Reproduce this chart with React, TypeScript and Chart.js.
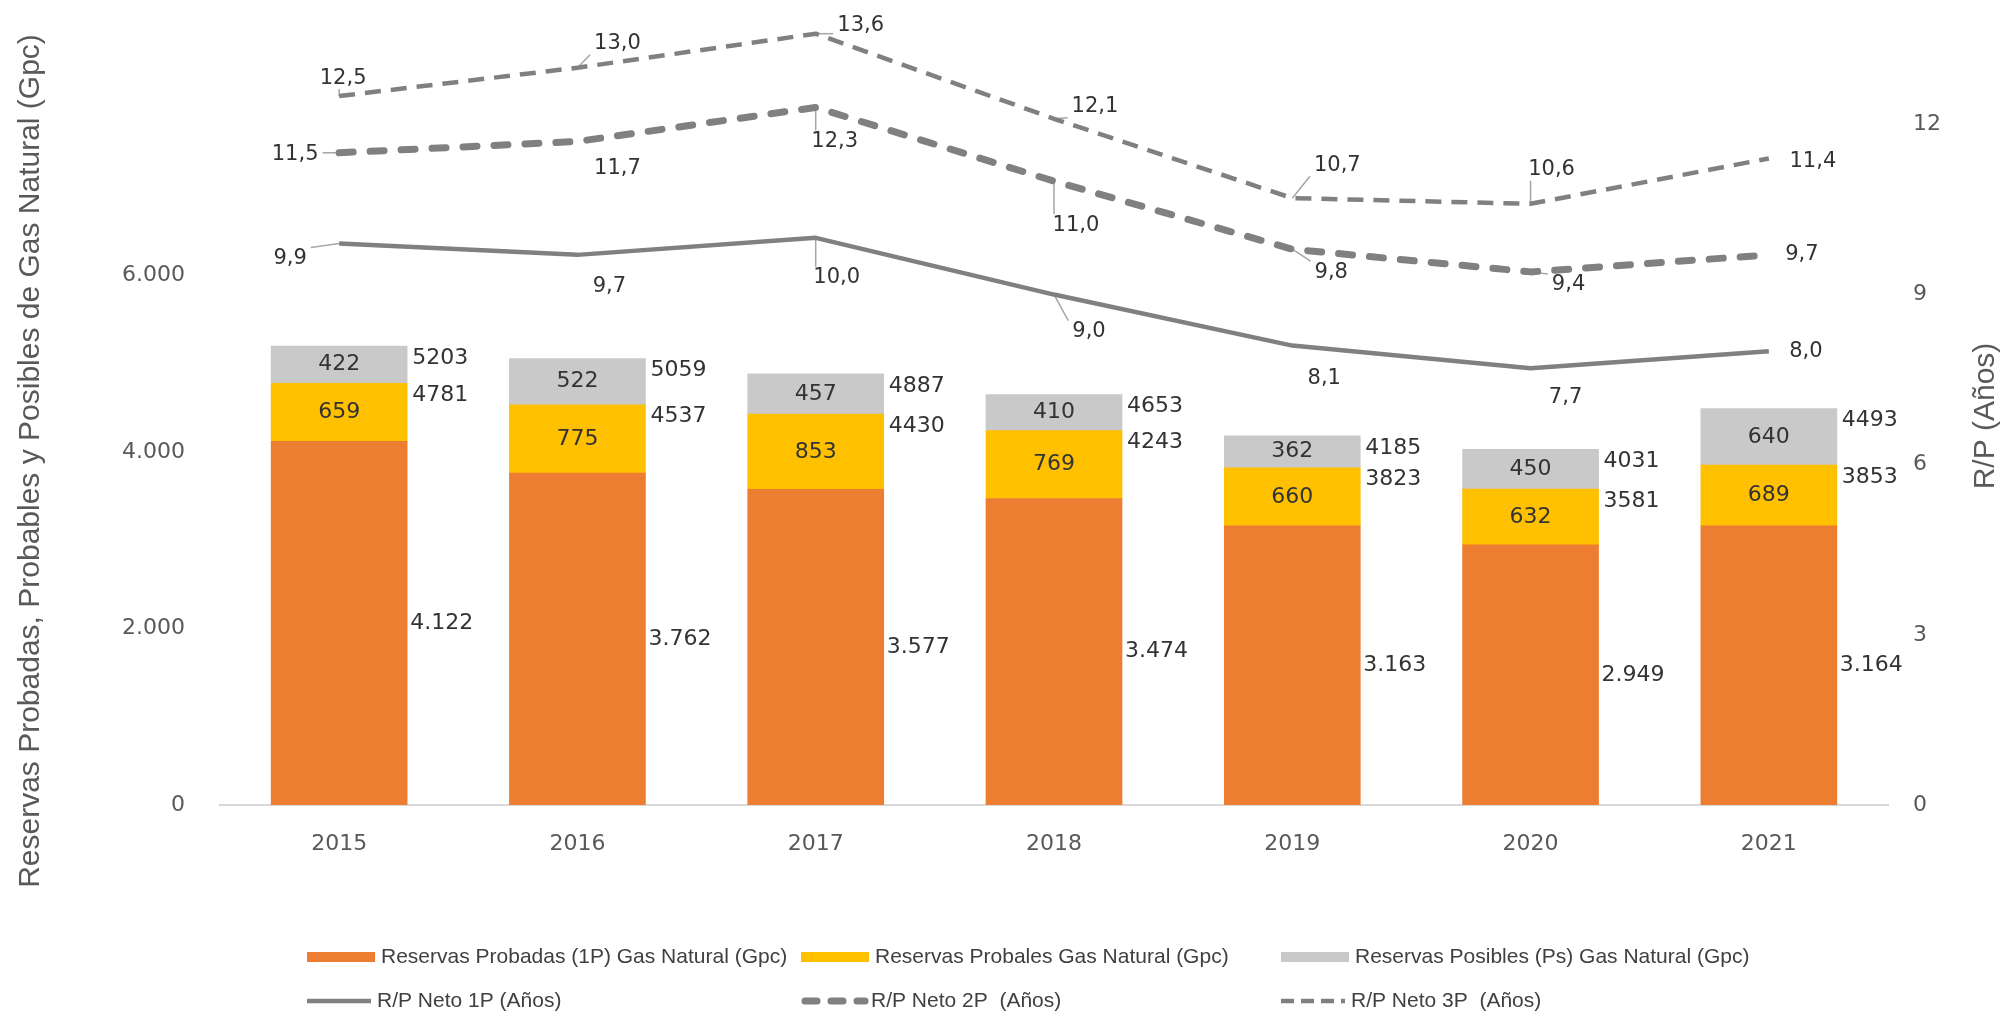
import { useEffect, useRef } from 'react';
import { Chart, registerables } from 'chart.js';

Chart.register(...registerables);

// ---- data ----
const years = ['2015', '2016', '2017', '2018', '2019', '2020', '2021'];
const probadas1P = [4122, 3762, 3577, 3474, 3163, 2949, 3164];
const probables = [659, 775, 853, 769, 660, 632, 689];
const posibles = [422, 522, 457, 410, 362, 450, 640];
const rp1P = [9.9, 9.7, 10.0, 9.0, 8.1, 7.7, 8.0];
const rp2P = [11.5, 11.7, 12.3, 11.0, 9.8, 9.4, 9.7];
const rp3P = [12.5, 13.0, 13.6, 12.1, 10.7, 10.6, 11.4];
const leftTicks = [0, 2000, 4000, 6000];
const rightTicks = [0, 3, 6, 9, 12];
const seriesNames = [
  'Reservas Probadas (1P) Gas Natural (Gpc)',
  'Reservas Probales Gas Natural (Gpc)',
  'Reservas Posibles (Ps) Gas Natural (Gpc)',
  'R/P Neto 1P (Años)',
  'R/P Neto 2P  (Años)',
  'R/P Neto 3P  (Años)',
];
const leftTitle = 'Reservas Probadas, Probables y Posibles de Gas Natural (Gpc)';
const rightTitle = 'R/P (Años)';

// ---- label layout (offsets of label centre from the point, px) ----
const lineLabelOffsets = [
  [[-49, 15], [32, 32], [21, 40], [35, 37], [32, 33], [35, 29], [37, 0]],
  [[-44, 2], [40, 27], [19, 34], [22, 44], [39, 23], [38, 13], [33, 0]],
  [[4, -18], [40, -24], [45, -8], [41, -12], [45, -33], [21, -34], [44, 3]],
];
const leaderIdx = [
  [0, 2, 3],
  [0, 2, 3, 4, 5],
  [0, 1, 2, 3, 4, 5],
];

const ORANGE = '#ED7D31';
const YELLOW = '#FFC000';
const LIGHT = '#C9C9C9';
const LINEGREY = '#808080';
const TXT = '#333333';
const AXT = '#595959';
const NUMFONT = '"DejaVu Sans", Verdana, sans-serif';
const TXTFONT = '"Liberation Sans", Arial, sans-serif';

const fmtThousands = (v: number) => String(v).replace(/\B(?=(\d{3})+(?!\d))/g, '.');
const fmtDec = (v: number) => v.toFixed(1).replace('.', ',');

export default function App() {
  const ref = useRef<HTMLCanvasElement>(null);

  useEffect(() => {
    const canvas = ref.current;
    if (!canvas) return;
    const lineSets = [rp1P, rp2P, rp3P];

    const labelPlugin = {
      id: 'customLabels',
      beforeDatasetsDraw(chart: any) {
        const ctx = chart.ctx;
        ctx.save();
        ctx.font = `21px ${NUMFONT}`;
        ctx.strokeStyle = '#a6a6a6';
        ctx.lineWidth = 1.5;
        [3, 4, 5].forEach((di, k) => {
          const meta = chart.getDatasetMeta(di);
          leaderIdx[k].forEach((i) => {
            const pt = meta.data[i];
            const [dx, dy] = lineLabelOffsets[k][i];
            const cx = pt.x + dx;
            const cy = pt.y + dy;
            const w = ctx.measureText(fmtDec(lineSets[k][i])).width;
            const l = cx - w / 2 - 4, r = cx + w / 2 + 4, t = cy - 11, b = cy + 11;
            const nx = Math.min(Math.max(pt.x, l), r);
            const ny = Math.min(Math.max(pt.y, t), b);
            if (Math.hypot(nx - pt.x, ny - pt.y) < 3) return;
            ctx.beginPath();
            ctx.moveTo(pt.x, pt.y);
            ctx.lineTo(nx, ny);
            ctx.stroke();
          });
        });
        ctx.restore();
      },
      afterDatasetsDraw(chart: any) {
        const ctx = chart.ctx;
        ctx.save();
        ctx.fillStyle = TXT;
        ctx.textBaseline = 'middle';
        ctx.font = `22px ${NUMFONT}`;
        const m0 = chart.getDatasetMeta(0);
        const m1 = chart.getDatasetMeta(1);
        const m2 = chart.getDatasetMeta(2);
        m0.data.forEach((el: any, i: number) => {
          ctx.textAlign = 'left';
          ctx.fillText(fmtThousands(probadas1P[i]), el.x + el.width / 2 + 3, (el.y + el.base) / 2);
        });
        m1.data.forEach((el: any, i: number) => {
          ctx.textAlign = 'center';
          ctx.fillText(String(probables[i]), el.x, (el.y + el.base) / 2);
          ctx.textAlign = 'left';
          ctx.fillText(String(probadas1P[i] + probables[i]), el.x + el.width / 2 + 5, el.y + 12);
        });
        m2.data.forEach((el: any, i: number) => {
          ctx.textAlign = 'center';
          ctx.fillText(String(posibles[i]), el.x, (el.y + el.base) / 2);
          ctx.textAlign = 'left';
          ctx.fillText(
            String(probadas1P[i] + probables[i] + posibles[i]),
            el.x + el.width / 2 + 5,
            el.y + 12
          );
        });
        ctx.font = `21px ${NUMFONT}`;
        ctx.textAlign = 'center';
        [3, 4, 5].forEach((di, k) => {
          const meta = chart.getDatasetMeta(di);
          meta.data.forEach((pt: any, i: number) => {
            const [dx, dy] = lineLabelOffsets[k][i];
            ctx.fillText(fmtDec(lineSets[k][i]), pt.x + dx, pt.y + dy);
          });
        });
        ctx.restore();
      },
      afterDraw(chart: any) {
        const ctx = chart.ctx;
        ctx.save();
        // axis titles
        ctx.fillStyle = AXT;
        ctx.font = `30px ${TXTFONT}`;
        ctx.textAlign = 'center';
        ctx.textBaseline = 'middle';
        ctx.save();
        ctx.translate(31, 461);
        ctx.rotate(-Math.PI / 2);
        ctx.fillText(leftTitle, 0, 0);
        ctx.restore();
        ctx.save();
        ctx.translate(1986, 416);
        ctx.rotate(-Math.PI / 2);
        ctx.fillText(rightTitle, 0, 0);
        ctx.restore();

        // legend
        const cols = [307, 801, 1281];
        const rows = [957, 1001];
        const swW = 68;
        ctx.font = `21px ${TXTFONT}`;
        ctx.textAlign = 'left';
        const fills = [ORANGE, YELLOW, LIGHT];
        for (let k = 0; k < 3; k++) {
          ctx.fillStyle = fills[k];
          ctx.fillRect(cols[k], rows[0] - 5, swW, 10);
          ctx.fillStyle = '#404040';
          ctx.fillText(seriesNames[k], cols[k] + swW + 6, rows[0]);
        }
        const dashes = [[], [12, 14], [13, 7]];
        const widths = [4.5, 7, 4.5];
        const caps = ['butt', 'round', 'butt'];
        for (let k = 0; k < 3; k++) {
          ctx.save();
          ctx.strokeStyle = LINEGREY;
          ctx.lineWidth = widths[k];
          ctx.lineCap = caps[k];
          ctx.setLineDash(dashes[k]);
          ctx.beginPath();
          ctx.moveTo(cols[k] + (k === 1 ? 4 : 0), rows[1]);
          ctx.lineTo(cols[k] + swW - 4, rows[1]);
          ctx.stroke();
          ctx.restore();
          ctx.fillStyle = '#404040';
          ctx.fillText(seriesNames[3 + k], cols[k] + swW + 2, rows[1]);
        }
        ctx.restore();
      },
    };

    const tickFont = { family: NUMFONT, size: 22 };

    const chart = new Chart(canvas, {
      type: 'bar',
      data: {
        labels: years,
        datasets: [
          { type: 'bar', label: seriesNames[0], data: probadas1P, backgroundColor: ORANGE, yAxisID: 'y', order: 1, barThickness: 136 },
          { type: 'bar', label: seriesNames[1], data: probables, backgroundColor: YELLOW, yAxisID: 'y', order: 1, barThickness: 136 },
          { type: 'bar', label: seriesNames[2], data: posibles, backgroundColor: LIGHT, yAxisID: 'y', order: 1, barThickness: 136 },
          { type: 'line', label: seriesNames[3], data: rp1P, yAxisID: 'y1', order: 0, borderColor: LINEGREY, borderWidth: 4.5, pointRadius: 0, borderJoinStyle: 'round', fill: false },
          { type: 'line', label: seriesNames[4], data: rp2P, yAxisID: 'y1', order: 0, borderColor: LINEGREY, borderWidth: 7, borderDash: [14, 17], borderCapStyle: 'round', pointRadius: 0, borderJoinStyle: 'round', fill: false },
          { type: 'line', label: seriesNames[5], data: rp3P, yAxisID: 'y1', order: 0, borderColor: LINEGREY, borderWidth: 4.5, borderDash: [16, 10], pointRadius: 0, borderJoinStyle: 'round', fill: false },
        ],
      } as any,
      options: {
        responsive: false,
        animation: false,
        layout: { padding: { top: 11, left: 0, right: 0, bottom: 149 } },
        plugins: { legend: { display: false }, tooltip: { enabled: false }, title: { display: false } },
        scales: {
          x: {
            stacked: true,
            offset: true,
            grid: { display: false, drawTicks: false },
            border: { display: true, color: '#d9d9d9', width: 2 },
            ticks: { color: AXT, font: tickFont, padding: 26, maxRotation: 0 },
            afterFit: (s: any) => { s.height = 60; s.paddingLeft = 0; s.paddingRight = 0; },
          },
          y: {
            position: 'left',
            stacked: true,
            min: 0,
            max: 9000,
            grid: { display: false, drawTicks: false },
            border: { display: false },
            ticks: { color: AXT, font: tickFont, padding: 35, callback: (v: any) => fmtThousands(Number(v)) },
            afterBuildTicks: (s: any) => { s.ticks = leftTicks.map((v) => ({ value: v })); },
            afterFit: (s: any) => { s.width = 220; s.paddingTop = 0; s.paddingBottom = 0; },
          },
          y1: {
            position: 'right',
            stacked: false,
            min: 0,
            max: 14,
            grid: { display: false, drawTicks: false },
            border: { display: false },
            ticks: { color: AXT, font: tickFont, padding: 25, callback: (v: any) => String(v) },
            afterBuildTicks: (s: any) => { s.ticks = rightTicks.map((v) => ({ value: v })); },
            afterFit: (s: any) => { s.width = 121; s.paddingTop = 0; s.paddingBottom = 0; },
          },
        },
      } as any,
      plugins: [labelPlugin],
    });
    return () => chart.destroy();
  }, []);

  return (
    <div style={{ position: 'absolute', left: 0, top: 0, width: 2009, height: 1014, background: '#fff' }}>
      <canvas ref={ref} width={2009} height={1014} style={{ display: 'block' }} />
    </div>
  );
}
